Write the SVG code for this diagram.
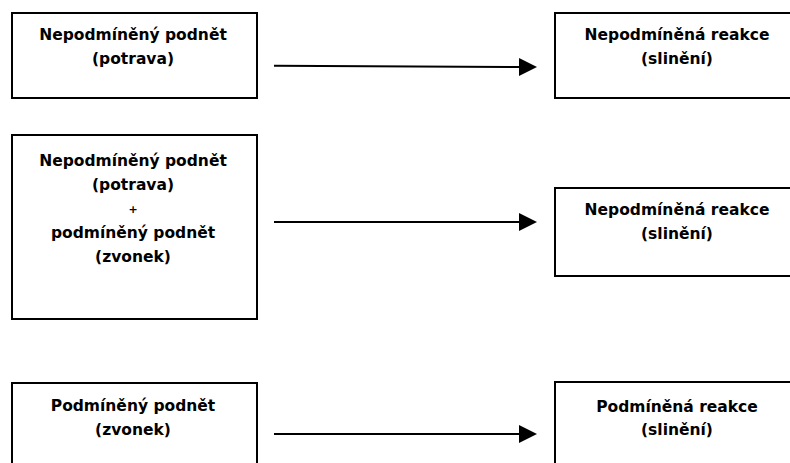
<svg xmlns="http://www.w3.org/2000/svg" width="790" height="463" viewBox="0 0 790 463">
  <style>
    .box { fill: #ffffff; stroke: #000000; stroke-width: 2; }
    .lbl { font-family: "DejaVu Sans", "Liberation Sans", sans-serif; font-weight: bold; font-size: 15.5px; fill: #000000; text-anchor: middle; }
    .plus { font-size: 11px; }
    .edge { stroke: #000000; stroke-width: 2; fill: none; marker-end: url(#arrow); }
  </style>
  <defs>
    <marker id="arrow" markerWidth="9" markerHeight="9" refX="1" refY="4.5" orient="auto" markerUnits="strokeWidth">
      <path d="M0,0 L9,4.5 L0,9 Z" fill="#000000"/>
    </marker>
  </defs>
  <rect width="790" height="463" fill="#ffffff"/>

  <g id="stimulus-unconditioned">
    <rect class="box" x="12" y="13" width="245" height="85"/>
    <text class="lbl" x="133" y="40">Nepodmíněný podnět</text>
    <text class="lbl" x="133" y="63.5">(potrava)</text>
  </g>
  <g id="reaction-unconditioned-1">
    <rect class="box" x="555" y="13" width="240" height="85"/>
    <text class="lbl" x="677" y="40">Nepodmíněná reakce</text>
    <text class="lbl" x="677" y="63.5">(slinění)</text>
  </g>

  <g id="stimulus-combined">
    <rect class="box" x="12" y="135" width="245" height="184"/>
    <text class="lbl" x="133" y="166">Nepodmíněný podnět</text>
    <text class="lbl" x="133" y="190">(potrava)</text>
    <text class="lbl plus" x="133" y="213">+</text>
    <text class="lbl" x="133" y="238">podmíněný podnět</text>
    <text class="lbl" x="133" y="262">(zvonek)</text>
  </g>
  <g id="reaction-unconditioned-2">
    <rect class="box" x="555" y="188" width="240" height="88"/>
    <text class="lbl" x="677" y="215">Nepodmíněná reakce</text>
    <text class="lbl" x="677" y="238.5">(slinění)</text>
  </g>

  <g id="stimulus-conditioned">
    <rect class="box" x="12" y="383" width="245" height="90"/>
    <text class="lbl" x="133" y="411">Podmíněný podnět</text>
    <text class="lbl" x="133" y="435">(zvonek)</text>
  </g>
  <g id="reaction-conditioned">
    <rect class="box" x="555" y="382" width="240" height="90"/>
    <text class="lbl" x="677" y="411.5">Podmíněná reakce</text>
    <text class="lbl" x="677" y="435">(slinění)</text>
  </g>

  <g id="connectors">
    <path class="edge" d="M274,65.8 L521,67"/>
    <path class="edge" d="M274,222 L521,222"/>
    <path class="edge" d="M274,434 L521,434"/>
  </g>
</svg>
